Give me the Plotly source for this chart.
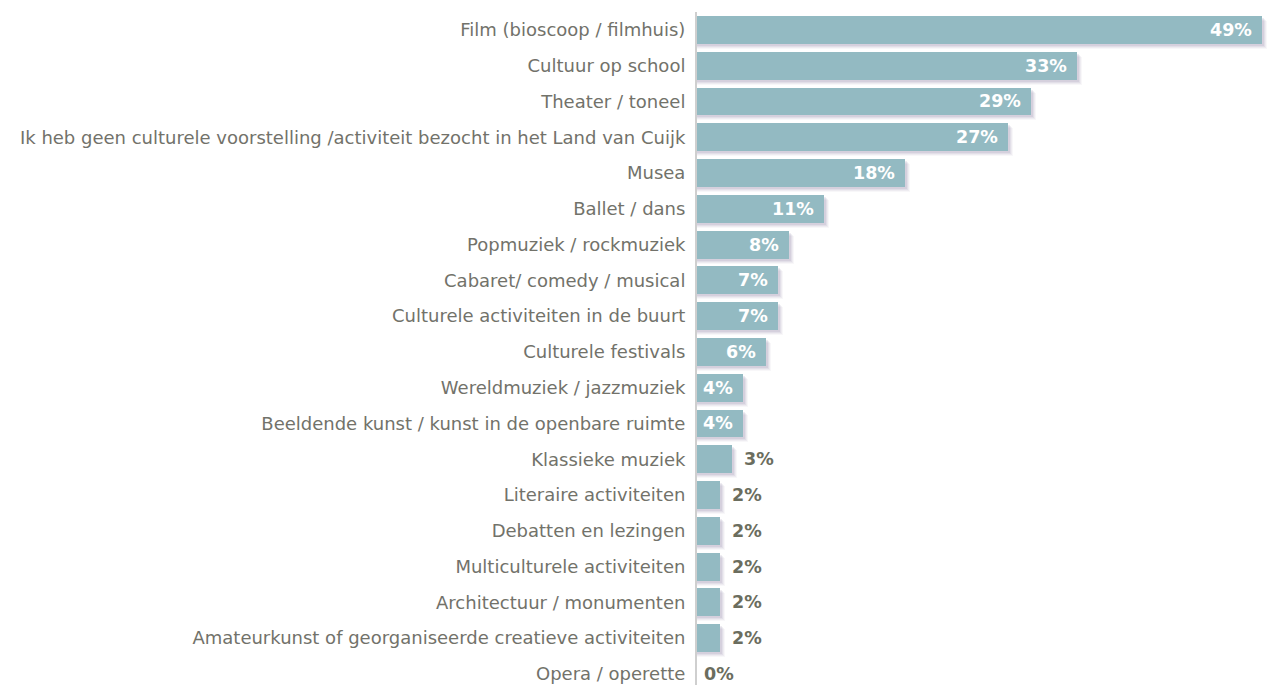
import plotly.graph_objects as go

categories = [
    "Film (bioscoop / filmhuis)",
    "Cultuur op school",
    "Theater / toneel",
    "Ik heb geen culturele voorstelling /activiteit bezocht in het Land van Cuijk",
    "Musea",
    "Ballet / dans",
    "Popmuziek / rockmuziek",
    "Cabaret/ comedy / musical",
    "Culturele activiteiten in de buurt",
    "Culturele festivals",
    "Wereldmuziek / jazzmuziek",
    "Beeldende kunst / kunst in de openbare ruimte",
    "Klassieke muziek",
    "Literaire activiteiten",
    "Debatten en lezingen",
    "Multiculturele activiteiten",
    "Architectuur / monumenten",
    "Amateurkunst of georganiseerde creatieve activiteiten",
    "Opera / operette",
]
values = [49, 33, 29, 27, 18, 11, 8, 7, 7, 6, 4, 4, 3, 2, 2, 2, 2, 2, 0]
value_labels = [f"{v}%" for v in values]

BAR_COLOR = "#93BAC2"
LABEL_COLOR = "#72726A"
OUT_COLOR = "#6B6D5E"
FONT = "DejaVu Sans"

# page body has an 8px margin: compensate so the plot lands where it should
OFF = 8
W, H = 1275 - OFF, 685 - OFF
AXIS_X = 697
ML, MR, MT, MB = AXIS_X - OFF, 0, 12 - OFF, 0
px_per_unit_x = 11.53
xmax = (W - ML - MR) / px_per_unit_x
plot_h = H - MT - MB
spacing = 35.78
yspan = plot_h / spacing
px_y = 1 / spacing
px_x = 1 / px_per_unit_x

bw = 0.78
fig = go.Figure()

# soft drop shadow layers
for k, a in [(5, 0.05), (4, 0.07), (3, 0.09), (2, 0.11)]:
    fig.add_trace(go.Bar(
        y=categories, x=[v + k * px_x if v > 0 else 0 for v in values],
        orientation="h", width=bw, offset=-bw / 2 + k * px_y,
        marker=dict(color=f"rgba(110,95,140,{a})", line=dict(width=0)),
        hoverinfo="skip", showlegend=False,
    ))

fig.add_trace(go.Bar(
    y=categories, x=values, orientation="h", width=bw, offset=-bw / 2,
    marker=dict(color=BAR_COLOR, line=dict(width=0)),
    showlegend=False,
))

for c, v, t in zip(categories, values, value_labels):
    if v >= 4:
        fig.add_annotation(x=v, y=c, text=f"<b>{t}</b>", showarrow=False,
                           xanchor="right", xshift=-8,
                           font=dict(family=FONT, size=17.5, color="white"))
    else:
        fig.add_annotation(x=v, y=c, text=f"<b>{t}</b>", showarrow=False,
                           xanchor="left", xshift=10 if v > 0 else 5,
                           font=dict(family=FONT, size=17.5, color=OUT_COLOR))

fig.update_layout(
    width=W, height=H,
    margin=dict(l=ML, r=MR, t=MT, b=MB, autoexpand=False),
    paper_bgcolor="white", plot_bgcolor="white",
    barmode="overlay", bargap=0,
    font=dict(family=FONT, size=18, color=LABEL_COLOR),
    xaxis=dict(range=[0, xmax], showgrid=False, zeroline=False,
               showticklabels=False, showline=False),
    yaxis=dict(categoryorder="array", categoryarray=categories,
               range=[yspan - 0.5, -0.5], showgrid=False, zeroline=False,
               showline=True, linecolor="#CFCFCF", linewidth=2,
               ticks="", ticklabelstandoff=6, automargin=False,
               tickfont=dict(family=FONT, size=18, color=LABEL_COLOR)),
)

fig.write_html("out.html")
